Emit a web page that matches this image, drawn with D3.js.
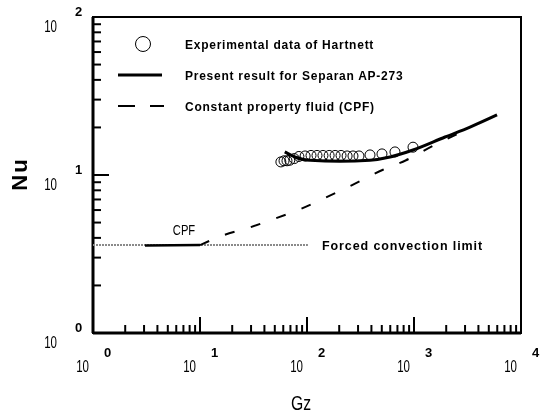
<!DOCTYPE html>
<html>
<head>
<meta charset="utf-8">
<script src="https://cdn.jsdelivr.net/npm/d3@7"></script>
<style>
  body { margin: 0; background: #fff; }
  svg { filter: grayscale(1); }
  text { font-family: "Liberation Sans", Arial, sans-serif; fill: #000; }
</style>
</head>
<body>
<script>
// tick labels (10^n)
const gzTicks = [1, 10, 100, 1000, 10000];
const gzExp = ["0", "1", "2", "3", "4"];
const nuTicks = [1, 10, 100];
const nuExp = ["0", "1", "2"];

// experimental data of Hartnett
const expGz = [57, 61, 65, 69, 76, 84, 96, 109, 124, 141, 161, 183, 208, 237, 269, 306, 388, 502, 664, 979];
const expNu = [12.1, 12.3, 12.3, 12.4, 12.7, 13.1, 13.2, 13.3, 13.3, 13.3, 13.3, 13.3, 13.3, 13.2, 13.2, 13.2, 13.4, 13.6, 14.0, 15.0];

// present result for Separan AP-273
const presentGz = [62, 70, 77, 107, 203, 388, 597, 979, 1950, 3340, 5970];
const presentNu = [14.0, 13.4, 13.0, 12.4, 12.2, 12.4, 13.0, 14.4, 17.4, 20.1, 24.0];

// constant property fluid
const cpfGz = [3.06, 10, 16.8, 28.1, 43.2, 82.4, 147, 264, 513, 842, 1505, 2690];
const cpfNu = [3.58, 3.6, 4.17, 4.62, 5.11, 6.0, 7.15, 8.64, 10.8, 12.4, 15.3, 18.5];

// forced convection limit
const limitGz = [1, 102];
const limitNu = 3.6;

const width = 550;
const height = 416;
const m = { left: 93, right: 521, top: 17, bottom: 333 };

const svg = d3
  .select("body")
  .append("svg")
  .attr("width", width)
  .attr("height", height);

const x = d3.scaleLog().domain([1, 10000]).range([m.left, m.right]);
const y = d3.scaleLog().domain([1, 100]).range([m.bottom, m.top]);

// frame
svg
  .append("rect")
  .attr("x", m.left)
  .attr("y", m.top)
  .attr("width", m.right - m.left)
  .attr("height", m.bottom - m.top)
  .attr("fill", "none")
  .attr("stroke", "black")
  .attr("stroke-width", 2);

svg.append("line").attr("x1", m.left).attr("x2", m.left).attr("y1", m.top).attr("y2", m.bottom)
  .attr("stroke", "black").attr("stroke-width", 3);
svg.append("line").attr("x1", m.left).attr("x2", m.right).attr("y1", m.bottom).attr("y2", m.bottom)
  .attr("stroke", "black").attr("stroke-width", 3);

// ticks (inside)
const isMajor = (v) => Math.abs(Math.log10(v) - Math.round(Math.log10(v))) < 1e-6;

svg
  .selectAll(".xtick")
  .data(x.ticks())
  .enter()
  .append("line")
  .attr("class", "xtick")
  .attr("x1", (d) => x(d))
  .attr("x2", (d) => x(d))
  .attr("y1", m.bottom)
  .attr("y2", (d) => (isMajor(d) ? m.bottom - 16 : m.bottom - 8))
  .attr("stroke", "black")
  .attr("stroke-width", 2);

svg
  .selectAll(".ytick")
  .data(y.ticks())
  .enter()
  .append("line")
  .attr("class", "ytick")
  .attr("y1", (d) => y(d))
  .attr("y2", (d) => y(d))
  .attr("x1", m.left)
  .attr("x2", (d) => (isMajor(d) ? m.left + 16 : m.left + 8))
  .attr("stroke", "black")
  .attr("stroke-width", 2);

// x tick labels
gzTicks.forEach((t, i) => {
  svg
    .append("text")
    .attr("transform", "translate(" + (x(t) - 4) + ",372) scale(0.68,1)")
    .attr("text-anchor", "end")
    .attr("font-size", 17)
    .text("10");
  svg
    .append("text")
    .attr("x", x(t) + 11)
    .attr("y", 357)
    .attr("font-size", 13)
    .attr("font-weight", "bold")
    .text(gzExp[i]);
});

// y tick labels
nuTicks.forEach((t, i) => {
  svg
    .append("text")
    .attr("transform", "translate(57," + (y(t) + 15) + ") scale(0.68,1)")
    .attr("text-anchor", "end")
    .attr("font-size", 17)
    .text("10");
  svg
    .append("text")
    .attr("x", 75)
    .attr("y", y(t) - 1)
    .attr("font-size", 13)
    .attr("font-weight", "bold")
    .text(nuExp[i]);
});

// axis titles
svg
  .append("text")
  .attr("transform", "translate(301,410) scale(0.75,1)")
  .attr("text-anchor", "middle")
  .attr("font-size", 21)
  .text("Gz");

svg
  .append("text")
  .attr("transform", "translate(27,174) rotate(-90)")
  .attr("text-anchor", "middle")
  .attr("font-size", 22)
  .attr("font-weight", "bold")
  .attr("letter-spacing", 2)
  .text("Nu");

// forced convection limit
svg
  .append("line")
  .attr("x1", x(limitGz[0]))
  .attr("x2", x(limitGz[1]))
  .attr("y1", y(limitNu))
  .attr("y2", y(limitNu))
  .attr("stroke", "#8a8a8a")
  .attr("stroke-width", 2)
  .attr("stroke-dasharray", "2,1");

svg
  .append("text")
  .attr("x", 322)
  .attr("y", 250)
  .attr("font-size", 12.5)
  .attr("font-weight", "bold")
  .attr("letter-spacing", 0.9)
  .text("Forced convection limit");

// CPF curve
const cpf = cpfGz.map((g, i) => ({ g: g, n: cpfNu[i] }));
const line = d3.line().x((d) => x(d.g)).y((d) => y(d.n)).curve(d3.curveMonotoneX);

svg
  .append("path")
  .attr("d", line(cpf.filter((d) => d.g <= 10)))
  .attr("fill", "none")
  .attr("stroke", "black")
  .attr("stroke-width", 2.5);

svg
  .append("path")
  .attr("d", line(cpf.filter((d) => d.g >= 10)))
  .attr("fill", "none")
  .attr("stroke", "black")
  .attr("stroke-width", 2)
  .attr("stroke-dasharray", "10,17");

svg
  .append("text")
  .attr("transform", "translate(184,235) scale(0.8,1)")
  .attr("text-anchor", "middle")
  .attr("font-size", 14)
  .text("CPF");

// present result
const present = presentGz.map((g, i) => ({ g: g, n: presentNu[i] }));
svg
  .append("path")
  .attr("d", line(present))
  .attr("fill", "none")
  .attr("stroke", "black")
  .attr("stroke-width", 3);

// experimental points
svg
  .selectAll(".exp")
  .data(expGz)
  .enter()
  .append("circle")
  .attr("class", "exp")
  .attr("cx", (d) => x(d))
  .attr("cy", (d, i) => y(expNu[i]))
  .attr("r", 5)
  .attr("fill", "none")
  .attr("stroke", "black")
  .attr("stroke-width", 1);

// legend
svg.append("circle").attr("cx", 143).attr("cy", 44).attr("r", 7.5)
  .attr("fill", "none").attr("stroke", "black").attr("stroke-width", 1);
svg.append("line").attr("x1", 118).attr("x2", 162).attr("y1", 75).attr("y2", 75)
  .attr("stroke", "black").attr("stroke-width", 3);
svg.append("line").attr("x1", 118).attr("x2", 164).attr("y1", 106).attr("y2", 106)
  .attr("stroke", "black").attr("stroke-width", 2).attr("stroke-dasharray", "17,15");

const legendText = ["Experimental data of Hartnett", "Present result for Separan AP-273", "Constant property fluid (CPF)"];
svg
  .selectAll(".legend")
  .data(legendText)
  .enter()
  .append("text")
  .attr("class", "legend")
  .attr("x", 185)
  .attr("y", (d, i) => 49 + i * 31)
  .attr("font-size", 12)
  .attr("font-weight", "bold")
  .attr("letter-spacing", 0.75)
  .text((d) => d);
</script>
</body>
</html>
